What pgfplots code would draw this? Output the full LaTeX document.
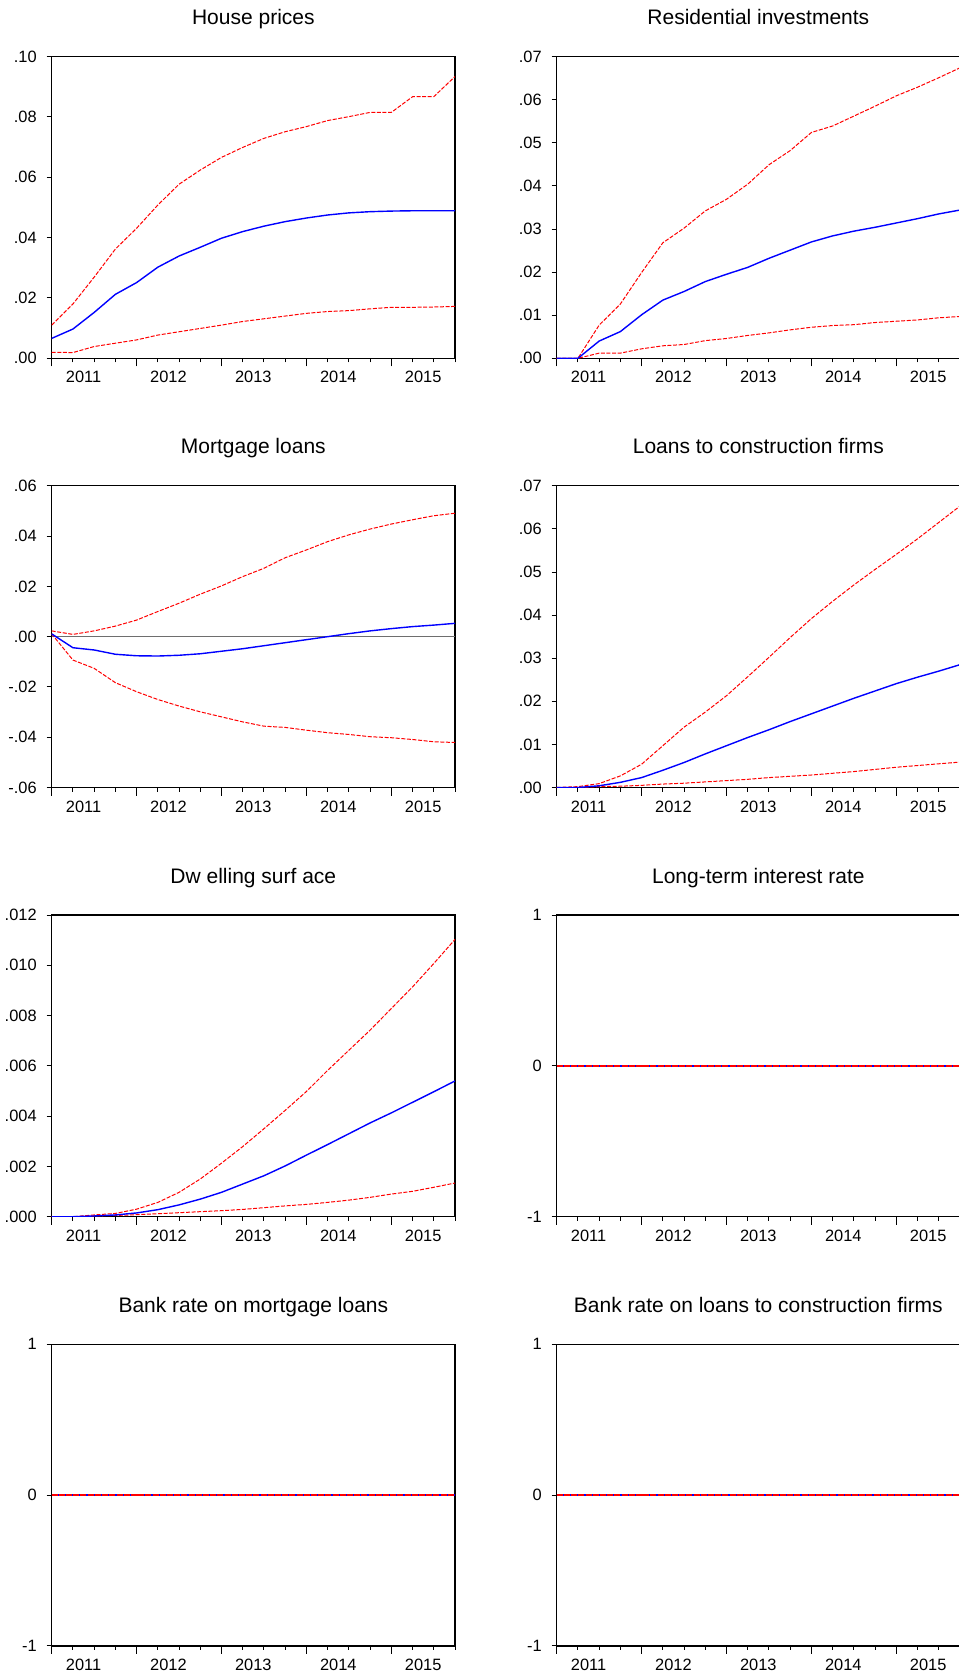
\documentclass[border=0pt]{standalone}
\usepackage{fontspec}
\setmainfont{Liberation Sans}
\usepackage{pgfplots}
\pgfplotsset{compat=1.18}
\definecolor{ired}{RGB}{255,0,0}
\definecolor{iblue}{RGB}{0,0,255}
\definecolor{zgray}{RGB}{110,110,110}
\pgfplotsset{
  irf/.style={
    scale only axis, width=201.65pt, height=150.85pt,
    xmin=1, xmax=20,
    anchor=south west,
    scaled y ticks=false, scaled x ticks=false,
    axis line style={line width=0.6pt, black},
    tick align=outside, xtick pos=bottom, ytick pos=left,
    /pgf/number format/assume math mode=true,
    xtick={1,5,9,13,17}, xticklabel=\empty,
    minor xtick={2,3,4,6,7,8,10,11,12,14,15,16,18,19,20},
    major tick length=4pt, minor tick length=2pt,
    ytick style={/pgfplots/major tick length=2.5pt},
    extra x ticks={2.5,6.5,10.5,14.5,18.5},
    extra x tick labels={2011,2012,2013,2014,2015},
    extra x tick style={/pgfplots/major tick length=0pt, xticklabel shift=3pt},
    every tick/.style={black, line width=0.5pt},
    tick label style={font=\fontsize{8.2}{9}\selectfont},
    title style={font=\fontsize{10.5}{12}\selectfont, at={(0.5,1)}, anchor=base, yshift=10pt},
  },
  mid/.style={iblue, line width=0.7pt, no marks},
  band/.style={ired, line width=0.5pt, no marks, dash pattern=on 2pt off 0.8pt},
}
\begin{document}
\begin{tikzpicture}
\path[use as bounding box] (0,0) rectangle (479pt,-837.5pt);

% Panel 1: House prices
\begin{axis}[irf, at={(25.85pt,-179.15pt)}, title={House prices},
  ymin=0, ymax=0.10, ytick={0,0.02,0.04,0.06,0.08,0.10},
  yticklabels={.00,.02,.04,.06,.08,.10}]
\addplot[band] table[x=i,y=lo] {
i lo hi
1 0.0020 0.0110
2 0.0019 0.0180
3 0.0039 0.0269
4 0.0050 0.0362
5 0.0061 0.0431
6 0.0077 0.0508
7 0.0088 0.0577
8 0.0099 0.0624
9 0.0110 0.0666
10 0.0122 0.0699
11 0.0131 0.0729
12 0.0140 0.0751
13 0.0149 0.0768
14 0.0155 0.0788
15 0.0158 0.0801
16 0.0164 0.0815
17 0.0169 0.0815
18 0.0169 0.0867
19 0.0170 0.0867
20 0.0172 0.0934
};
\addplot[band] table[x=i,y=hi] {
i lo hi
1 0.0020 0.0110
2 0.0019 0.0180
3 0.0039 0.0269
4 0.0050 0.0362
5 0.0061 0.0431
6 0.0077 0.0508
7 0.0088 0.0577
8 0.0099 0.0624
9 0.0110 0.0666
10 0.0122 0.0699
11 0.0131 0.0729
12 0.0140 0.0751
13 0.0149 0.0768
14 0.0155 0.0788
15 0.0158 0.0801
16 0.0164 0.0815
17 0.0169 0.0815
18 0.0169 0.0867
19 0.0170 0.0867
20 0.0172 0.0934
};
\addplot[mid] table[x=i,y=mid] {
i mid
1 0.0066
2 0.0097
3 0.0152
4 0.0212
5 0.0251
6 0.0302
7 0.0339
8 0.0368
9 0.0398
10 0.0420
11 0.0438
12 0.0453
13 0.0465
14 0.0475
15 0.0482
16 0.0486
17 0.0488
18 0.0489
19 0.0489
20 0.0489
};
\end{axis}

% Panel 2: Residential investments
\begin{axis}[irf, at={(278.35pt,-179.15pt)}, title={Residential investments},
  ymin=0, ymax=0.07, ytick={0,0.01,0.02,0.03,0.04,0.05,0.06,0.07},
  yticklabels={.00,.01,.02,.03,.04,.05,.06,.07}]
\addplot[band] table[x=i,y=lo] {
i lo hi
1 0 0
2 0 0
3 0.0012 0.0077
4 0.0012 0.0126
5 0.0022 0.0199
6 0.0029 0.0268
7 0.0032 0.0302
8 0.0041 0.0342
9 0.0046 0.0369
10 0.0053 0.0404
11 0.0059 0.0449
12 0.0066 0.0482
13 0.0072 0.0524
14 0.0076 0.0539
15 0.0078 0.0562
16 0.0083 0.0585
17 0.0086 0.0609
18 0.0089 0.0629
19 0.0094 0.0651
20 0.0097 0.0674
};
\addplot[band] table[x=i,y=hi] {
i lo hi
1 0 0
2 0 0
3 0.0012 0.0077
4 0.0012 0.0126
5 0.0022 0.0199
6 0.0029 0.0268
7 0.0032 0.0302
8 0.0041 0.0342
9 0.0046 0.0369
10 0.0053 0.0404
11 0.0059 0.0449
12 0.0066 0.0482
13 0.0072 0.0524
14 0.0076 0.0539
15 0.0078 0.0562
16 0.0083 0.0585
17 0.0086 0.0609
18 0.0089 0.0629
19 0.0094 0.0651
20 0.0097 0.0674
};
\addplot[mid] table[x=i,y=mid] {
i mid
1 0
2 0
3 0.0040
4 0.0062
5 0.0101
6 0.0135
7 0.0155
8 0.0178
9 0.0195
10 0.0211
11 0.0232
12 0.0251
13 0.0270
14 0.0284
15 0.0295
16 0.0304
17 0.0314
18 0.0324
19 0.0335
20 0.0344
};
\end{axis}

% Panel 3: Mortgage loans
\begin{axis}[irf, at={(25.85pt,-393.75pt)}, title={Mortgage loans},
  ymin=-0.06, ymax=0.06, ytick={-0.06,-0.04,-0.02,0,0.02,0.04,0.06},
  yticklabels={-.06,-.04,-.02,.00,.02,.04,.06}]
\addplot[zgray, line width=0.6pt, no marks] coordinates {(1,0) (20,0)};
\addplot[band] table[x=i,y=lo] {
i lo hi
1 0.0011 0.0023
2 -0.0093 0.0009
3 -0.0126 0.0023
4 -0.0183 0.0042
5 -0.0219 0.0066
6 -0.0250 0.0100
7 -0.0276 0.0133
8 -0.0299 0.0169
9 -0.0319 0.0202
10 -0.0339 0.0239
11 -0.0356 0.0272
12 -0.0361 0.0314
13 -0.0372 0.0345
14 -0.0382 0.0378
15 -0.0389 0.0405
16 -0.0398 0.0428
17 -0.0402 0.0448
18 -0.0409 0.0465
19 -0.0418 0.0481
20 -0.0421 0.0491
};
\addplot[band] table[x=i,y=hi] {
i lo hi
1 0.0011 0.0023
2 -0.0093 0.0009
3 -0.0126 0.0023
4 -0.0183 0.0042
5 -0.0219 0.0066
6 -0.0250 0.0100
7 -0.0276 0.0133
8 -0.0299 0.0169
9 -0.0319 0.0202
10 -0.0339 0.0239
11 -0.0356 0.0272
12 -0.0361 0.0314
13 -0.0372 0.0345
14 -0.0382 0.0378
15 -0.0389 0.0405
16 -0.0398 0.0428
17 -0.0402 0.0448
18 -0.0409 0.0465
19 -0.0418 0.0481
20 -0.0421 0.0491
};
\addplot[mid] table[x=i,y=mid] {
i mid
1 0.0011
2 -0.0044
3 -0.0053
4 -0.0070
5 -0.0076
6 -0.0077
7 -0.0074
8 -0.0068
9 -0.0058
10 -0.0048
11 -0.0036
12 -0.0024
13 -0.0012
14 0.0000
15 0.0012
16 0.0023
17 0.0032
18 0.0040
19 0.0046
20 0.0053
};
\end{axis}

% Panel 4: Loans to construction firms
\begin{axis}[irf, at={(278.35pt,-393.75pt)}, title={Loans to construction firms},
  ymin=0, ymax=0.07, ytick={0,0.01,0.02,0.03,0.04,0.05,0.06,0.07},
  yticklabels={.00,.01,.02,.03,.04,.05,.06,.07}]
\addplot[band] table[x=i,y=lo] {
i lo hi
1 0 0
2 0 0.0002
3 0.0002 0.0009
4 0.0003 0.0027
5 0.0005 0.0054
6 0.0008 0.0097
7 0.0010 0.0140
8 0.0013 0.0175
9 0.0016 0.0213
10 0.0019 0.0257
11 0.0023 0.0302
12 0.0026 0.0348
13 0.0029 0.0392
14 0.0033 0.0432
15 0.0037 0.0470
16 0.0042 0.0506
17 0.0047 0.0541
18 0.0051 0.0577
19 0.0055 0.0615
20 0.0059 0.0653
};
\addplot[band] table[x=i,y=hi] {
i lo hi
1 0 0
2 0 0.0002
3 0.0002 0.0009
4 0.0003 0.0027
5 0.0005 0.0054
6 0.0008 0.0097
7 0.0010 0.0140
8 0.0013 0.0175
9 0.0016 0.0213
10 0.0019 0.0257
11 0.0023 0.0302
12 0.0026 0.0348
13 0.0029 0.0392
14 0.0033 0.0432
15 0.0037 0.0470
16 0.0042 0.0506
17 0.0047 0.0541
18 0.0051 0.0577
19 0.0055 0.0615
20 0.0059 0.0653
};
\addplot[mid] table[x=i,y=mid] {
i mid
1 0
2 0
3 0.0004
4 0.0012
5 0.0023
6 0.0040
7 0.0058
8 0.0078
9 0.0097
10 0.0116
11 0.0134
12 0.0153
13 0.0171
14 0.0189
15 0.0207
16 0.0224
17 0.0241
18 0.0256
19 0.0270
20 0.0285
};
\end{axis}

% Panel 5: Dwelling surface
\begin{axis}[irf, at={(25.85pt,-608.35pt)}, title={Dw elling surf ace},
  ymin=0, ymax=0.012, ytick={0,0.002,0.004,0.006,0.008,0.010,0.012},
  yticklabels={.000,.002,.004,.006,.008,.010,.012}]
\addplot[band] table[x=i,y=lo] {
i lo hi
1 0 0
2 0 0
3 0.00003 0.00007
4 0.00005 0.00013
5 0.00008 0.00030
6 0.00012 0.00057
7 0.00016 0.00097
8 0.00020 0.00150
9 0.00024 0.00213
10 0.00029 0.00279
11 0.00036 0.00350
12 0.00043 0.00423
13 0.00049 0.00498
14 0.00057 0.00582
15 0.00066 0.00662
16 0.00077 0.00742
17 0.00090 0.00828
18 0.00101 0.00914
19 0.00117 0.01007
20 0.00134 0.01103
};
\addplot[band] table[x=i,y=hi] {
i lo hi
1 0 0
2 0 0
3 0.00003 0.00007
4 0.00005 0.00013
5 0.00008 0.00030
6 0.00012 0.00057
7 0.00016 0.00097
8 0.00020 0.00150
9 0.00024 0.00213
10 0.00029 0.00279
11 0.00036 0.00350
12 0.00043 0.00423
13 0.00049 0.00498
14 0.00057 0.00582
15 0.00066 0.00662
16 0.00077 0.00742
17 0.00090 0.00828
18 0.00101 0.00914
19 0.00117 0.01007
20 0.00134 0.01103
};
\addplot[mid] table[x=i,y=mid] {
i mid
1 0
2 0
3 0.00003
4 0.00007
5 0.00015
6 0.00028
7 0.00047
8 0.00070
9 0.00097
10 0.00130
11 0.00163
12 0.00202
13 0.00245
14 0.00287
15 0.00330
16 0.00373
17 0.00413
18 0.00455
19 0.00497
20 0.00540
};
\end{axis}

% Panel 6: Long-term interest rate
\begin{axis}[irf, at={(278.35pt,-608.35pt)}, title={Long-term interest rate},
  ymin=-1, ymax=1, ytick={-1,0,1}, yticklabels={-1,0,1}]
\addplot[iblue, line width=0.9pt, no marks] coordinates {(1,0) (2,0) (3,0) (4,0) (5,0) (6,0) (7,0) (8,0) (9,0) (10,0) (11,0) (12,0) (13,0) (14,0) (15,0) (16,0) (17,0) (18,0) (19,0) (20,0)};
\addplot[ired, line width=0.9pt, no marks, dash pattern=on 3pt off 0.6pt] coordinates {(1,0) (2,0) (3,0) (4,0) (5,0) (6,0) (7,0) (8,0) (9,0) (10,0) (11,0) (12,0) (13,0) (14,0) (15,0) (16,0) (17,0) (18,0) (19,0) (20,0)};
\end{axis}

% Panel 7: Bank rate on mortgage loans
\begin{axis}[irf, at={(25.85pt,-822.95pt)}, title={Bank rate on mortgage loans},
  ymin=-1, ymax=1, ytick={-1,0,1}, yticklabels={-1,0,1}]
\addplot[iblue, line width=0.9pt, no marks] coordinates {(1,0) (2,0) (3,0) (4,0) (5,0) (6,0) (7,0) (8,0) (9,0) (10,0) (11,0) (12,0) (13,0) (14,0) (15,0) (16,0) (17,0) (18,0) (19,0) (20,0)};
\addplot[ired, line width=0.9pt, no marks, dash pattern=on 3pt off 0.6pt] coordinates {(1,0) (2,0) (3,0) (4,0) (5,0) (6,0) (7,0) (8,0) (9,0) (10,0) (11,0) (12,0) (13,0) (14,0) (15,0) (16,0) (17,0) (18,0) (19,0) (20,0)};
\end{axis}

% Panel 8: Bank rate on loans to construction firms
\begin{axis}[irf, at={(278.35pt,-822.95pt)}, title={Bank rate on loans to construction firms},
  ymin=-1, ymax=1, ytick={-1,0,1}, yticklabels={-1,0,1}]
\addplot[iblue, line width=0.9pt, no marks] coordinates {(1,0) (2,0) (3,0) (4,0) (5,0) (6,0) (7,0) (8,0) (9,0) (10,0) (11,0) (12,0) (13,0) (14,0) (15,0) (16,0) (17,0) (18,0) (19,0) (20,0)};
\addplot[ired, line width=0.9pt, no marks, dash pattern=on 3pt off 0.6pt] coordinates {(1,0) (2,0) (3,0) (4,0) (5,0) (6,0) (7,0) (8,0) (9,0) (10,0) (11,0) (12,0) (13,0) (14,0) (15,0) (16,0) (17,0) (18,0) (19,0) (20,0)};
\end{axis}
\end{tikzpicture}
\end{document}
